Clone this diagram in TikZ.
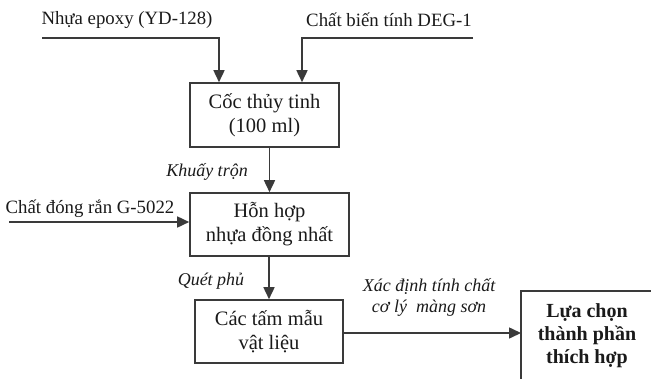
\documentclass[tikz,border=0pt]{standalone}
\usepackage{fontspec}
\setmainfont{Liberation Serif}
\usetikzlibrary{arrows.meta}
\definecolor{ln}{HTML}{3A3A3A}
\definecolor{tx}{HTML}{1A1A1A}
\tikzset{
  box/.style={draw=ln, line width=1.6pt, minimum width=#1, inner sep=0pt, align=center, text=tx, font=\fontsize{20.5}{24}\selectfont},
  arr/.style={draw=ln, line width=1.6pt, -{Triangle[length=12pt,width=11pt]}},
  lab/.style={text=tx, font=\fontsize{18.8}{22}\selectfont, inner sep=0pt},
  ilab/.style={text=tx, font=\fontsize{18}{21}\itshape\selectfont, inner sep=0pt, align=center},
}
\begin{document}
\begin{tikzpicture}[x=1pt,y=1pt]
\useasboundingbox (0,0) rectangle (651,-378);
\clip (0,0) rectangle (651,-378);
\node[box=149pt, minimum height=64pt] (box1) at (264.5,-115) {Cốc thủy tinh\\(100 ml)};
\node[box=159pt, minimum height=63pt] (box2) at (269.5,-224.5) {Hỗn hợp\\nhựa đồng nhất};
\node[box=148pt, minimum height=63pt] (box3) at (269,-331.5) {Các tấm mẫu\\vật liệu};
\draw[ln, line width=1.6pt] (521,-400) -- (521,-291) -- (660,-291);
\coordinate (box4w) at (521,-333);
\node[text=tx, font=\fontsize{20}{23}\bfseries\selectfont, align=center, inner sep=0pt] (box4) at (587,-336) {Lựa chọn\\thành phần\\thích hợp};

\node[lab] (t1) at (127,-20) {Nhựa epoxy (YD-128)};
\node[lab] (t2) at (389,-20) {Chất biến tính DEG-1};
\node[lab] (t3) at (90,-209) {Chất đóng rắn G-5022};
\node[ilab] (l1) at (207,-172) {Khuấy trộn};
\node[ilab] (l2) at (211,-281) {Quét phủ};
\node[ilab] (l3) at (429,-297) {Xác định tính chất\\cơ lý\ \ màng sơn};

\coordinate (in1) at (42,-38);
\coordinate (in2) at (473,-38);
\coordinate (in3) at (9,-222);
\draw[arr] (in1) -| ([xshift=-45.5pt]box1.north);
\draw[arr] (in2) -| ([xshift=37.5pt]box1.north);
\draw[arr] (box1.south -| box2.north) -- (box2.north);
\draw[arr] (in3) -- (in3 -| box2.west);
\draw[arr] (box2.south -| box3.north) -- (box3.north);
\draw[arr] (box3.east |- box4w) -- (box4w);
\end{tikzpicture}
\end{document}
